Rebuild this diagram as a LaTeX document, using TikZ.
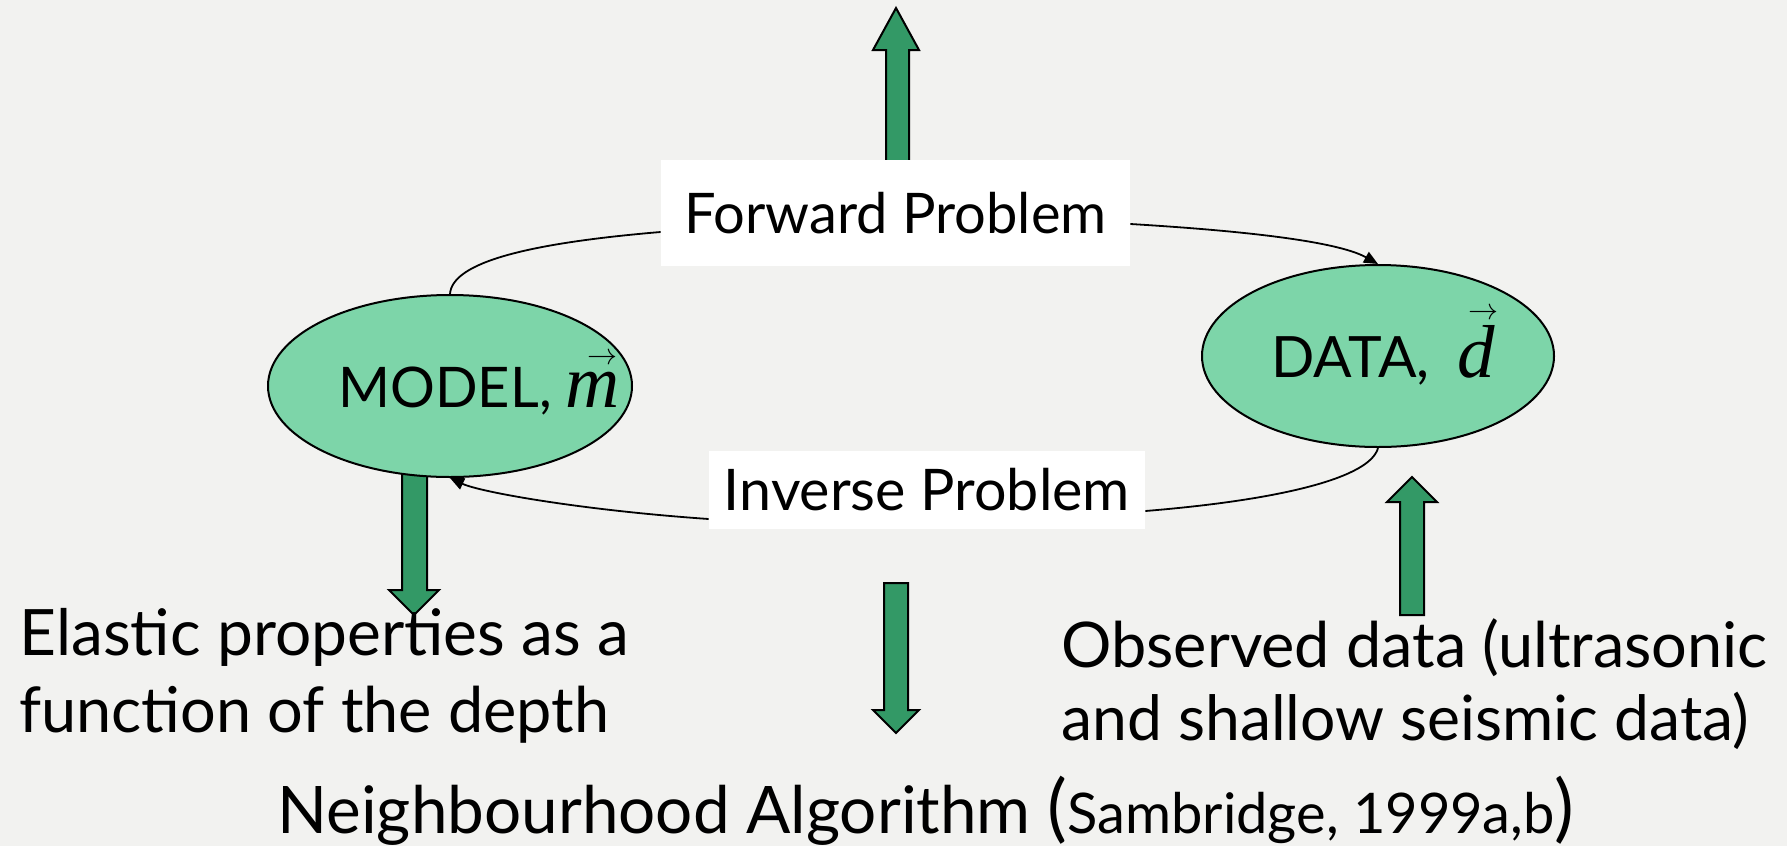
\documentclass[tikz,border=0pt]{standalone}
\usepackage{fontspec}
\usepackage{graphicx}
\setmainfont{Lato}
\newfontfamily\tnr{Liberation Serif}
\usetikzlibrary{arrows.meta,shapes.geometric,calc}
\definecolor{bgcol}{HTML}{F2F2F0}
\definecolor{ellfill}{HTML}{7DD5A9}
\definecolor{arrgreen}{HTML}{339966}
\newcommand{\fsz}[1]{\fontsize{#1}{#1}\selectfont}
% italic serif letter with a vector arrow: #1 letter, #2 arrow indent, #3 arrow lift
\newcommand{\vecover}[3]{\rlap{\hspace*{#2}\raisebox{#3}{\resizebox{15pt}{!}{$\rightarrow$}}}{\tnr\itshape #1}}
\begin{document}
\begin{tikzpicture}[x=0.5pt,y=-0.5pt,
  blob/.style={ellipse, draw=black, line width=1pt, fill=ellfill, inner sep=0pt},
  labelbox/.style={fill=white, inner sep=0pt},
  thinline/.style={draw=black, line width=0.9pt},
  conn/.style={thinline, -{Triangle[length=7pt,width=6pt]}},
  blockarrow/.style={fill=arrgreen, draw=black, line width=1pt, line join=miter},
  caption/.style={anchor=base west, inner sep=0pt}]
\fill[bgcol] (0,0) rectangle (1787,846);
\useasboundingbox (0,0) rectangle (1787,846);

% broad block arrows
\draw[blockarrow] (886,185) -- (886,50) -- (873,50) -- (896,8) -- (919,50) -- (909,50) -- (909,185) -- cycle;
\draw[blockarrow] (402,460) -- (402,590) -- (389,590) -- (414,615) -- (439,590) -- (427,590) -- (427,460) -- cycle;
\draw[blockarrow] (884,583) -- (884,710) -- (873,710) -- (896,733) -- (919,710) -- (908,710) -- (908,583) -- cycle;
\draw[blockarrow] (1400,615) -- (1400,502) -- (1387,502) -- (1412,477) -- (1437,502) -- (1424,502) -- (1424,615) -- cycle;

% model and data
\node[blob, minimum width=182pt, minimum height=91pt] (model) at (450,386) {};
\node[blob, minimum width=176pt, minimum height=91pt] (data) at (1378,356) {};
\node[anchor=base west, inner sep=0pt, font=\fsz{28}] (modeltxt) at (338,407)
  {MODEL,\hspace{7pt}{\fsz{37.5}\vecover{m}{11pt}{21.5pt}}};
\node[anchor=base west, inner sep=0pt, font=\fsz{28.5}] (datatxt) at (1271,377)
  {DATA,\hspace{0.5em}{\fsz{37.5}\vecover{d}{5.5pt}{29pt}}};

% problem labels
\node[labelbox, font=\fsz{28}, minimum width=234.5pt, minimum height=53pt] (fwd) at (895.5,213) {Forward Problem};
\node[labelbox, font=\fsz{28.7}, minimum width=218pt, minimum height=39pt] (inv) at (927,490) {Inverse Problem};

% forward loop
\draw[thinline] (model.north) .. controls (452,262) and (530,243) .. ($(fwd.west)+(0,19)$);
\draw[conn] ($(fwd.east)+(0,11)$) .. controls (1230,230) and (1335,240) .. (data.north);
% inverse loop
\draw[thinline] (data.south) .. controls (1370,478) and (1280,500) .. ($(inv.east)+(0,21)$);
\draw[conn] ($(inv.west)+(0,29)$) .. controls (580,510) and (480,492) .. (model.south);

% captions
\node[caption, font=\fsz{32}] (el1) at (19,655) {Elastic properties as a};
\node[caption, font=\fsz{31.5}] (el2) at (19,732) {function of the depth};
\node[caption, font=\fsz{31.5}] (ob1) at (1061,667) {Observed data (ultrasonic};
\node[caption, font=\fsz{31.2}] (ob2) at (1061,740) {and shallow seismic data)};
\node[caption, font=\fsz{32.8}] (na) at (277,833) {Neighbourhood Algorithm {\fsz{37}(}{\fsz{28}Sambridge, 1999a,b}{\fsz{37})}};
\end{tikzpicture}
\end{document}
